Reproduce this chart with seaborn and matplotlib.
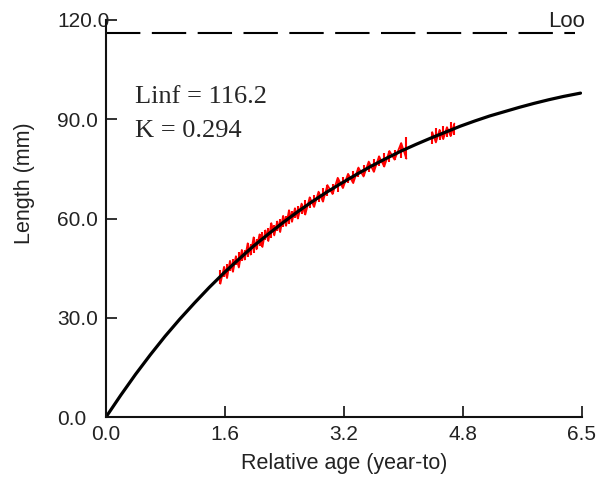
from matplotlib import pyplot as plt
import pandas as pd
import seaborn as sns
import numpy as np


##### Values
# fitted growth curve (black)
curve_age = [0.0, 0.2, 0.4, 0.6, 0.8, 1.0, 1.2, 1.4, 1.6, 1.8, 2.0, 2.2, 2.4, 2.6, 2.8, 3.0,
             3.2, 3.4, 3.6, 3.8, 4.0, 4.2, 4.4, 4.6, 4.8, 5.0, 5.2, 5.4, 5.6, 5.8, 6.0, 6.2, 6.43]
curve_len = [0.0, 6.6, 12.9, 18.8, 24.4, 29.6, 34.5, 39.2, 43.6, 47.7, 51.7, 55.3, 58.8, 62.1, 65.2, 68.1,
             70.8, 73.4, 75.9, 78.2, 80.4, 82.4, 84.3, 86.1, 87.9, 89.5, 91.0, 92.3, 93.6, 94.8, 95.9, 96.9, 97.9]

# observed lengths (red ticks): age, centre and half range
obs_age = [1.55, 1.60, 1.64, 1.68, 1.72, 1.76, 1.80, 1.84, 1.88, 1.92, 1.96, 2.00, 2.04, 2.08,
           2.12, 2.16, 2.20, 2.24, 2.28, 2.32, 2.36, 2.40, 2.44, 2.48, 2.52, 2.56, 2.60, 2.65,
           2.70, 2.76, 2.82, 2.88, 2.94, 3.00, 3.07, 3.14, 3.21, 3.28, 3.35, 3.42, 3.49, 3.56,
           3.63, 3.70, 3.77, 3.84, 3.91, 4.00, 4.07, 4.42, 4.47, 4.52, 4.57, 4.62, 4.67, 4.72]
obs_len = [42.3, 43.9, 44.2, 45.6, 45.9, 47.2, 47.5, 48.8, 49.1, 50.4, 50.7, 51.9, 52.2, 53.4,
           53.6, 54.9, 55.1, 56.3, 56.5, 57.7, 57.9, 59.1, 59.3, 60.4, 60.6, 61.7, 61.9, 63.0,
           63.4, 64.8, 65.3, 66.6, 67.1, 68.4, 68.9, 70.2, 70.8, 72.1, 72.6, 73.9, 74.4, 75.6,
           76.0, 77.3, 77.7, 78.8, 79.2, 80.6, 81.3, 84.3, 85.2, 85.2, 86.0, 86.1, 87.0, 87.0]
obs_half = [2.0, 1.5, 2.2, 1.6, 2.0, 1.4, 2.3, 1.7, 1.5, 2.1, 1.6, 2.4, 1.5, 1.8,
            2.2, 1.5, 1.9, 2.3, 1.6, 1.4, 2.0, 1.7, 1.5, 2.1, 1.6, 1.4, 1.9, 1.5,
            2.2, 1.6, 1.8, 1.5, 2.0, 1.7, 1.5, 2.1, 1.6, 1.4, 1.9, 1.5, 1.7, 1.6,
            1.9, 1.5, 2.0, 1.6, 1.4, 2.2, 3.2, 1.8, 2.2, 1.6, 2.0, 1.5, 2.1, 1.7]

loo_value = 116.2
loo_age = [0.0, 6.35]
k_value = 0.294

x_max = 6.45
x_tick_labels = ['0.0', '1.6', '3.2', '4.8', '6.5']
y_ticks = [0, 30, 60, 90, 120]

curve = pd.DataFrame({'age': curve_age, 'length': curve_len})
obs = pd.DataFrame({'age': obs_age, 'length': obs_len, 'half': obs_half})
loo = pd.DataFrame({'age': loo_age, 'length': [loo_value] * len(loo_age)})

# zigzag path through the tick ends (low, high, low, ...) for each run of observations
obs['run'] = (obs['age'].diff() > 0.2).cumsum()
obs['sign'] = np.where(np.arange(len(obs)) % 2 == 0, -1, 1)
zig = pd.DataFrame({'age': obs['age'], 'length': obs['length'] + obs['sign'] * obs['half'],
                    'run': obs['run']})


##### Plot
sns.set_style('ticks')
plt.rcParams['font.family'] = ['Liberation Sans', 'DejaVu Sans']

fig = plt.figure(figsize=(6, 4.83), dpi=100)
ax = fig.add_axes([0.1767, 0.1366, 0.7933, 0.822])

# Loo asymptote
sns.lineplot(data=loo, x='age', y='length', ax=ax, color='black', linewidth=1.5,
             linestyle=(0, (16.5, 5.5)))

# observed data as red vertical ticks joined by a zigzag
ax.vlines(obs['age'], obs['length'] - obs['half'], obs['length'] + obs['half'],
          color='red', linewidth=1.5)
for run, part in zig.groupby('run'):
    sns.lineplot(data=part, x='age', y='length', ax=ax, color='red', linewidth=1.3,
                 sort=False)

# fitted curve
sns.lineplot(data=curve, x='age', y='length', ax=ax, color='black', linewidth=2.3)

ax.set_xlim(0, x_max)
ax.set_ylim(0, 120)
ax.set_xticks(np.linspace(0, x_max, len(x_tick_labels)))
ax.set_xticklabels(x_tick_labels)
ax.set_yticks(y_ticks)
ax.set_yticklabels(['%.1f' % v for v in y_ticks], ha='left')

ax.tick_params(axis='both', direction='in', length=8, width=1.3, colors='#222222', labelsize=15)
ax.tick_params(axis='x', pad=6)
ax.tick_params(axis='y', pad=35)

for side in ['top', 'right']:
    ax.spines[side].set_visible(False)
for side in ['left', 'bottom']:
    ax.spines[side].set_linewidth(1.5)
    ax.spines[side].set_color('#111111')

ax.set_xlabel('Relative age (year-to)', fontsize=15.5, color='#222222', labelpad=6)
ax.set_ylabel('Length (mm)', fontsize=15.5, color='#222222', labelpad=0)
ax.yaxis.set_label_coords(-0.15, 0.59)

ax.text(5.99, 118.0, 'Loo', fontsize=16, color='#222222', ha='left', va='baseline', clip_on=False)

ax.text(0.39, 94.9, 'Linf = %.1f' % loo_value, fontsize=19, family='Liberation Serif',
        ha='left', va='baseline')
ax.text(0.39, 84.6, 'K = %.3f' % k_value, fontsize=19, family='Liberation Serif',
        ha='left', va='baseline')

plt.savefig('out.png', dpi=100)
